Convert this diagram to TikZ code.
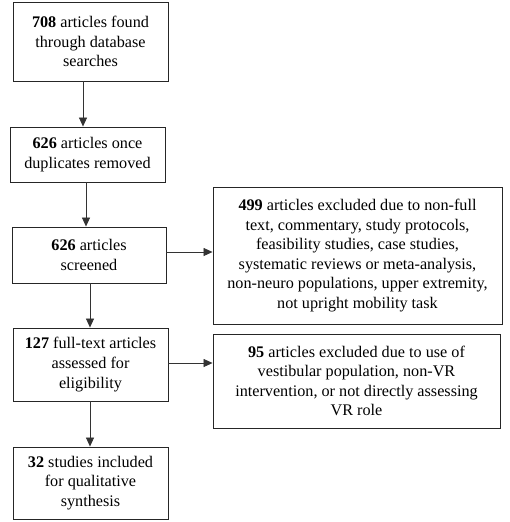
\documentclass[tikz,border=0pt]{standalone}
\usepackage{fontspec}
\setmainfont{Liberation Serif}
\usetikzlibrary{arrows.meta}
\begin{document}
\begin{tikzpicture}[x=1pt,y=-1pt,
  box/.style={draw=black!85, line width=0.9pt, inner sep=0pt, align=center,
    font=\fontsize{16.2}{19.6}\selectfont},
  arr/.style={draw=black!80, line width=0.7pt, -{Triangle[length=9pt,width=8pt]}}]
\useasboundingbox (0,0) rectangle (510,522);
\node[box, minimum width=155, minimum height=79] (b1) at (90.5,41.5)
  {\textbf{708} articles found\\through database\\searches};
\node[box, minimum width=155, minimum height=55] (b2) at (87.5,154.5)
  {\textbf{626} articles once\\duplicates removed};
\node[box, minimum width=154, minimum height=56] (b3) at (89,255)
  {\textbf{626} articles\\screened};
\node[box, minimum width=289, minimum height=137] (e1) at (357.5,255.5)
  {\textbf{499} articles excluded due to non-full\\text, commentary, study protocols,\\feasibility studies, case studies,\\systematic reviews or meta-analysis,\\non-neuro populations, upper extremity,\\not upright mobility task};
\node[box, minimum width=155, minimum height=73] (b4) at (90.5,364.5)
  {\textbf{127} full-text articles\\assessed for\\eligibility};
\node[box, minimum width=287, minimum height=94] (e2) at (356.5,381)
  {\textbf{95} articles excluded due to use of\\vestibular population, non-VR\\intervention, or not directly assessing\\VR role};
\node[box, minimum width=155, minimum height=72] (b5) at (90.5,483)
  {\textbf{32} studies included\\for qualitative\\synthesis};
\draw[arr] (b1.south -| 83,0) -- (b2.north -| 83,0);
\draw[arr] (b2.south -| 86,0) -- (b3.north -| 86,0);
\draw[arr] (b3.south -| 90,0) -- (b4.north -| 90,0);
\draw[arr] (b4.south -| 90,0) -- (b5.north -| 90,0);
\draw[arr] (b3.east |- 0,252) -- (e1.west |- 0,252);
\draw[arr] (b4.east |- 0,363) -- (e2.west |- 0,363);
\end{tikzpicture}
\end{document}
